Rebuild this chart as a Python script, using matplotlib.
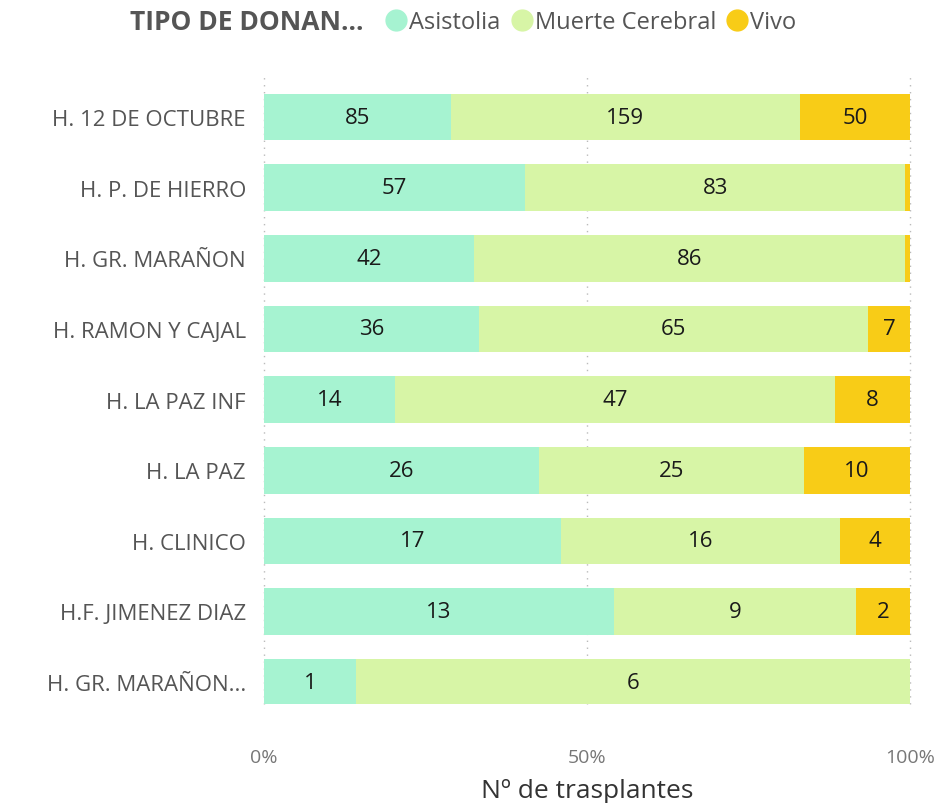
import numpy as np
import matplotlib
matplotlib.use('Agg')
import matplotlib.pyplot as plt
from matplotlib.lines import Line2D

plt.rcParams['font.family'] = ['Open Sans', 'DejaVu Sans']

hospitales = ['H. 12 DE OCTUBRE', 'H. P. DE HIERRO', 'H. GR. MARAÑON', 'H. RAMON Y CAJAL',
              'H. LA PAZ INF', 'H. LA PAZ', 'H. CLINICO', 'H.F. JIMENEZ DIAZ', 'H. GR. MARAÑON...']
asistolia = [85, 57, 42, 36, 14, 26, 17, 13, 1]
muerte_cerebral = [159, 83, 86, 65, 47, 25, 16, 9, 6]
vivo = [50, 1, 1, 7, 8, 10, 4, 2, 0]
series_names = ['Asistolia', 'Muerte Cerebral', 'Vivo']
colors = ['#A6F3D1', '#D7F5A6', '#F8CC17']

data = np.array([asistolia, muerte_cerebral, vivo], dtype=float)
totals = data.sum(axis=0)
pct = data / totals

fig = plt.figure(figsize=(9.38, 8.04), dpi=100)
ax = fig.add_axes([264/938, 1 - 705/804, (910-264)/938, (705-75)/804])

y = np.arange(len(hospitales))
left = np.zeros(len(hospitales))
for i in range(3):
    ax.barh(y, pct[i], left=left, height=0.66, color=colors[i], label=series_names[i])
    for j in range(len(hospitales)):
        if data[i, j] >= 2 or (i < 2 and data[i, j] > 0):
            ax.text(left[j] + pct[i, j] / 2, y[j], '%d' % data[i, j],
                    ha='center', va='center', fontsize=16, color='#1a1a1a')
    left += pct[i]

ax.set_ylim(8.31, -0.61)
ax.set_xlim(0, 1)
ax.set_yticks(y)
ax.set_yticklabels(hospitales, fontsize=16, color='#555555')
ax.set_xticks([0, 0.5, 1])
ax.set_xticklabels(['0%', '50%', '100%'], fontsize=14, color='#777777')
ax.tick_params(axis='both', length=0)
ax.tick_params(axis='y', pad=13)
ax.tick_params(axis='x', pad=32)
ax.grid(axis='x', linestyle=(0, (1, 4)), color='#BBBBBB', linewidth=1)
ax.set_axisbelow(True)
for line in ax.get_xgridlines():
    line.set_clip_on(False)
for s in ax.spines.values():
    s.set_visible(False)
ax.set_xlabel('Nº de trasplantes', fontsize=19, color='#333333', labelpad=8)

fig.text(130/938, 1 - 23/804, 'TIPO DE DONAN...', fontsize=19, fontweight='bold',
         color='#555555', va='center', ha='left')
handles = [Line2D([], [], marker='o', linestyle='', markersize=15, color=c) for c in colors]
fig.legend(handles, series_names, loc='center left', bbox_to_anchor=(376/938, 1 - 23/804),
           ncol=3, frameon=False, fontsize=17, handletextpad=0.1, columnspacing=0.45,
           borderaxespad=0, handlelength=0.9, labelcolor='#555555')

fig.savefig('out.png', dpi=100)
